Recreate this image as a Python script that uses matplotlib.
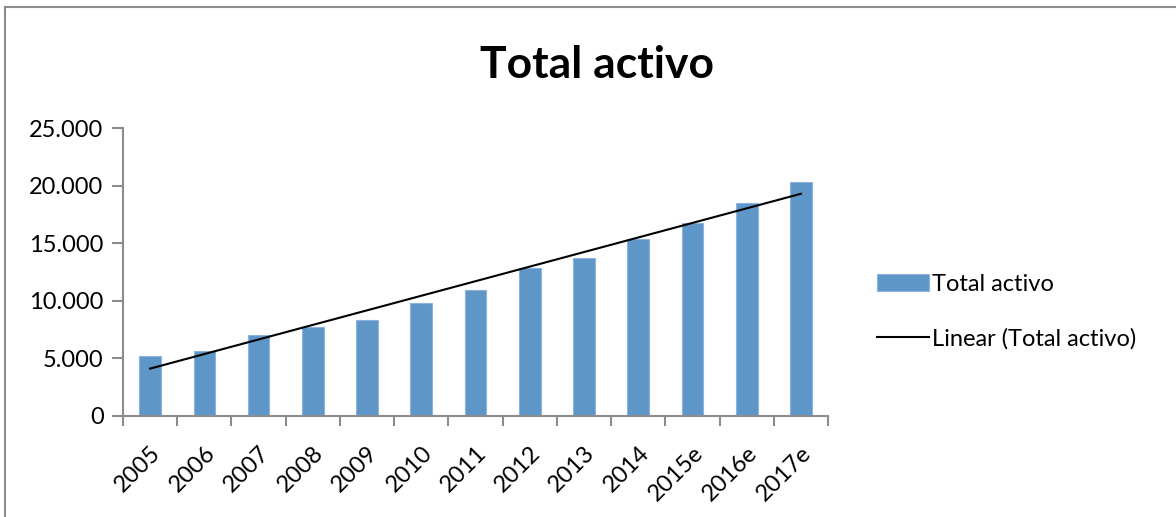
import matplotlib.pyplot as plt
from matplotlib.lines import Line2D
from matplotlib.ticker import FuncFormatter, FixedLocator
import numpy as np

years = ["2005", "2006", "2007", "2008", "2009", "2010", "2011",
         "2012", "2013", "2014", "2015e", "2016e", "2017e"]
total_activo = [5180, 5670, 7060, 7730, 8300, 9780, 10910,
                12880, 13750, 15360, 16750, 18460, 20280]

plt.rcParams['font.family'] = ['Lato', 'DejaVu Sans']

fig = plt.figure(figsize=(11.76, 5.17), dpi=100)
ax = fig.add_axes([0.1046, 0.1954, 0.5995, 0.557])

x = np.arange(len(years))
bars = ax.bar(x, total_activo, width=0.4, color="#5F96C8", edgecolor="#8DB3DC",
              linewidth=0.8, label="Total activo", zorder=2)

# linear trendline, like Excel
slope, intercept = np.polyfit(x, total_activo, 1)
trend, = ax.plot(x, intercept + slope * x, color="black", linewidth=1.5,
                 label="Linear (Total activo)", zorder=3)

ax.set_xlim(-0.5, len(years) - 0.5)
ax.set_ylim(0, 25000)
ax.set_yticks(range(0, 25001, 5000))
ax.yaxis.set_major_formatter(FuncFormatter(lambda v, p: f"{int(v):,}".replace(",", ".")))

ax.set_xticks(x)
ax.set_xticklabels(years, rotation=45, ha="right", rotation_mode="anchor", fontsize=17)
ax.tick_params(axis="x", which="major", length=0, pad=19)
ax.xaxis.set_minor_locator(FixedLocator(np.arange(-0.5, len(years), 1.0)))
ax.tick_params(axis="x", which="minor", length=7, width=1.5, color="#8c8c8c")
ax.tick_params(axis="y", length=8, width=1.5, color="#8c8c8c", labelsize=17, pad=6)

for s in ["top", "right"]:
    ax.spines[s].set_visible(False)
for s in ["left", "bottom"]:
    ax.spines[s].set_color("#8c8c8c")
    ax.spines[s].set_linewidth(1.5)

fig.text(0.508, 0.875, "Total activo", ha="center", va="center",
         fontsize=32, fontweight="bold")

ax.legend([bars, trend], ["Total activo", "Linear (Total activo)"],
          loc="center left", bbox_to_anchor=(1.039, 0.362), frameon=False,
          fontsize=17, handlelength=2.2, handleheight=0.7, labelspacing=1.41,
          handletextpad=0.15)

# chart border (cropped on right and bottom)
fig.add_artist(Line2D([0.0045, 0.0045], [0, 0.9865], color="#8c8c8c", linewidth=1.5))
fig.add_artist(Line2D([0.0045, 1.0], [0.9865, 0.9865], color="#8c8c8c", linewidth=1.5))

fig.savefig("out.png", dpi=100)
